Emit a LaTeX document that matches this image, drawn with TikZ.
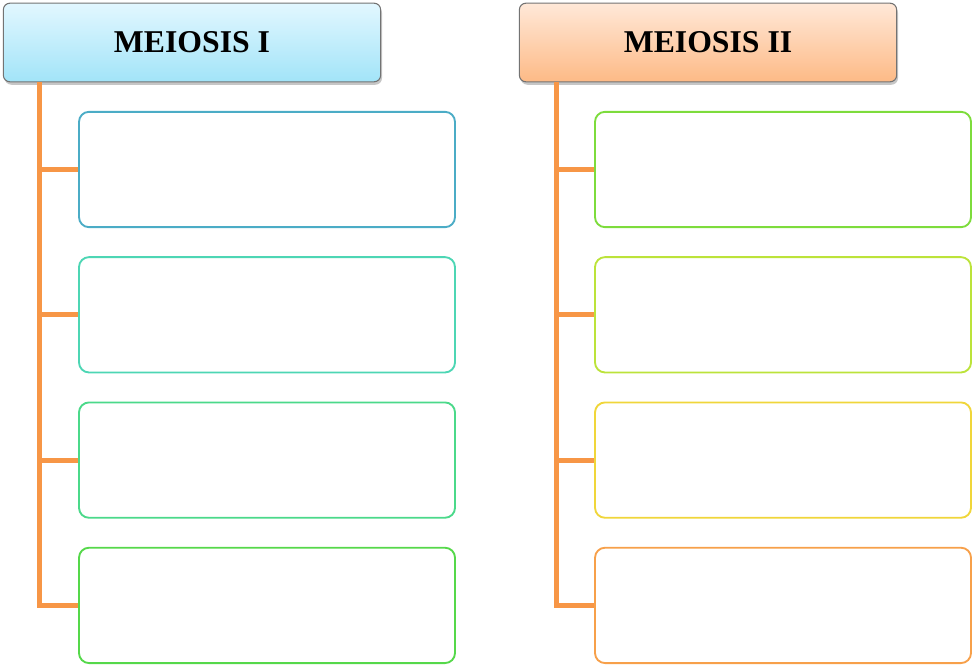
\documentclass[tikz,border=0pt]{standalone}
\usepackage{fontspec}
\setmainfont{Liberation Serif}
\usetikzlibrary{shadows}
\definecolor{trunkorange}{HTML}{F79646}
\definecolor{skytop}{HTML}{E2F7FF}
\definecolor{skybot}{HTML}{A2E4F8}
\definecolor{peachtop}{HTML}{FFE8D8}
\definecolor{peachbot}{HTML}{FDBA86}
\definecolor{blueA}{HTML}{4BACC6}
\definecolor{tealA}{HTML}{4DD6B4}
\definecolor{greenA}{HTML}{4BD98A}
\definecolor{greenB}{HTML}{55D84A}
\definecolor{limeA}{HTML}{7DDC3C}
\definecolor{limeB}{HTML}{BCE33A}
\definecolor{yellowA}{HTML}{F0D63A}
\definecolor{orangeA}{HTML}{F7A04A}
\begin{document}
\begin{tikzpicture}[x=0.75pt,y=-0.75pt,
	header/.style={draw=black!55,line width=0.8pt,rounded corners=5pt,minimum width=283pt,minimum height=59pt,
		font=\fontsize{23.8}{28}\selectfont\bfseries,drop shadow={shadow xshift=1pt,shadow yshift=-2.2pt,opacity=0.45}},
	stage/.style={draw=#1,line width=1.4pt,rounded corners=7.5pt,minimum width=282pt,minimum height=86.5pt,fill=white},
	trunk/.style={trunkorange,line width=3.6pt}]
\useasboundingbox (0,0) rectangle (973,666);
% the two phases
\node[header,top color=skytop,bottom color=skybot] (m1) at (192,42.5) {MEIOSIS I};
\node[header,top color=peachtop,bottom color=peachbot] (m2) at (708,42.5) {MEIOSIS II};
% empty boxes for the stages
\foreach \c [count=\i] in {blueA,tealA,greenA,greenB}
	\node[stage=\c] (a\i) at (267,169.5+145.3*\i-145.3) {};
\foreach \c [count=\i] in {limeA,limeB,yellowA,orangeA}
	\node[stage=\c] (b\i) at (783,169.5+145.3*\i-145.3) {};
% orange brackets
\foreach \i in {1,...,4}{
	\draw[trunk] (m1.south west) ++(37,0) |- (a\i.west);
	\draw[trunk] (m2.south west) ++(38,0) |- (b\i.west);
}
\end{tikzpicture}
\end{document}
